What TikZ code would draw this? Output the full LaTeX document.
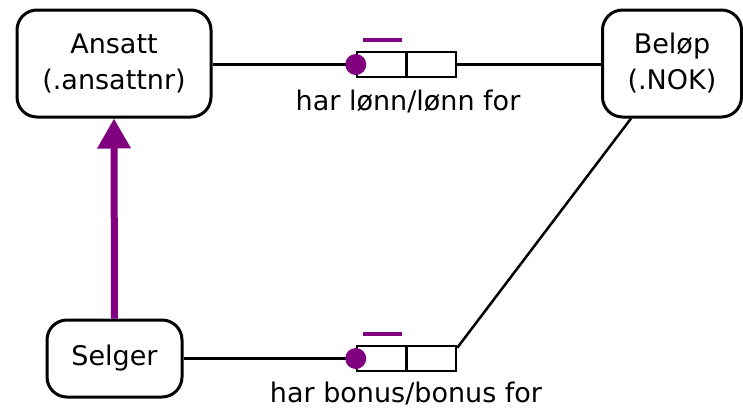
\documentclass[tikz,border=0pt]{standalone}
\usepackage{fontspec}
\setmainfont{DejaVu Sans}
\usetikzlibrary{arrows.meta}
\definecolor{mypurple}{HTML}{800080}
\begin{document}
\begin{tikzpicture}[x=1pt,y=-1pt,
  every node/.style={font=\fontsize{27}{36}\selectfont, inner sep=0pt},
  entity/.style={draw, line width=3pt, rounded corners=20pt, align=center},
  relbox/.style={draw, line width=2.5pt, minimum width=99pt, minimum height=25pt},
  conn/.style={line width=2.5pt},
  lbl/.style={anchor=base}
]
\useasboundingbox (0,0) rectangle (743,408);
\node[entity, minimum width=194pt, minimum height=107pt] (ans) at (114,63.5) {Ansatt\\(.ansattnr)};
\node[entity, minimum width=139pt, minimum height=107pt] (bel) at (672,63.5) {Beløp\\(.NOK)};
\node[entity, minimum width=135pt, minimum height=77pt] (sel) at (114.5,358.5) {Selger};

\node[relbox] (rb1) at (406.5,64.5) {};
\node[relbox] (rb2) at (406.5,358.5) {};

\draw[conn] (ans.east |- rb1.west) -- (rb1.west);
\draw[conn] (rb1.east) -- (bel.west |- rb1.east);
\draw[conn] (sel.east |- rb2.west) -- (rb2.west);
\draw[conn] ([xshift=-41pt]bel.south) -- ([yshift=-3pt]rb2.north east);

\draw[line width=2.5pt] (rb1.north) -- (rb1.south);
\fill[mypurple] (rb1.west) circle (10.5pt);
\draw[mypurple, line width=3.5pt] (363,40) -- (402,40);
\node[lbl] (l1) at (408,110) {har lønn/lønn for};

\draw[line width=2.5pt] (rb2.north) -- (rb2.south);
\fill[mypurple] (rb2.west) circle (10.5pt);
\draw[mypurple, line width=3.5pt] (363,334) -- (402,334);
\node[lbl] (l2) at (406,402) {har bonus/bonus for};

\draw[mypurple, line width=7pt, -{Triangle[length=30pt,width=32pt]}] (sel.north) -- (ans.south);
\end{tikzpicture}
\end{document}
